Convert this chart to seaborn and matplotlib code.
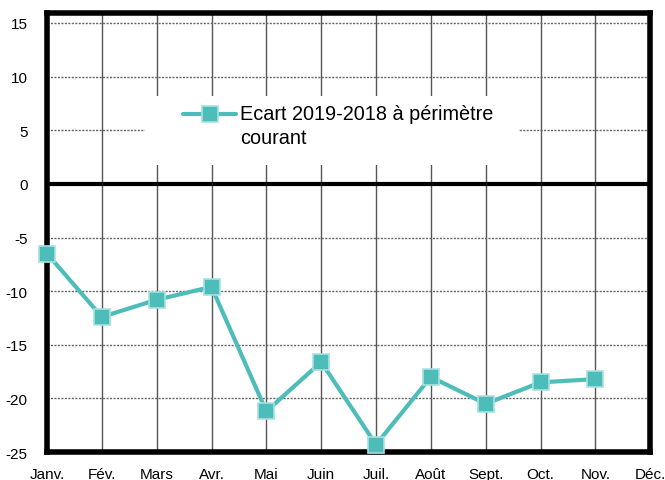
import matplotlib
matplotlib.use("Agg")
import matplotlib.pyplot as plt
from matplotlib.patches import Rectangle
import seaborn as sns
import numpy as np
import pandas as pd

months = ["Janv.", "Fév.", "Mars", "Avr.", "Mai", "Juin", "Juil.", "Août",
          "Sept.", "Oct.", "Nov.", "Déc."]
ecart = [-6.5, -12.4, -10.8, -9.6, -21.2, -16.6, -24.3, -18.0, -20.5, -18.5, -18.2]
label = "Ecart 2019-2018 à périmètre\ncourant"

sns.set_style("white")
plt.rcParams["font.family"] = ["Liberation Sans", "DejaVu Sans"]
plt.rcParams["text.color"] = "black"
plt.rcParams["xtick.color"] = "black"
plt.rcParams["ytick.color"] = "black"

df = pd.DataFrame({"pos": np.arange(len(ecart)), "ecart": ecart})

fig = plt.figure(figsize=(6.65, 4.81), dpi=100)
ax = fig.add_axes([0.0707, 0.058, 0.907, 0.913])

# grid: solid vertical per month, dotted horizontal per 5
for i in range(len(months)):
    ax.axvline(i, color="#555555", lw=1.0, zorder=1)
for yv in range(-20, 16, 5):
    if yv != 0:
        ax.axhline(yv, color="#666666", lw=1.0, ls=(0, (1.5, 1)), zorder=1)
ax.axhline(0, color="black", lw=3, zorder=2)

# white box behind the legend, hiding the grid
ax.add_patch(Rectangle((0.1625, 0.654), 0.62, 0.157, transform=ax.transAxes,
                       facecolor="white", edgecolor="none", zorder=2.5))

sns.lineplot(data=df, x="pos", y="ecart", ax=ax, color="#4DBDBA", lw=3,
             marker="s", markersize=11, markerfacecolor="#4DBDBA",
             markeredgecolor="#A8E2E2", markeredgewidth=1.2,
             label=label, zorder=6, clip_on=False)

ax.set_xlim(0, 11)
ax.set_ylim(-25, 15.93)
ax.set_xticks(range(len(months)))
ax.set_xticklabels(months, fontsize=11)
ax.set_yticks(range(-25, 16, 5))
ax.set_yticklabels([str(v) for v in range(-25, 16, 5)], fontsize=11)
ax.tick_params(axis="x", length=0, pad=11)
ax.tick_params(axis="y", length=0, pad=14)
ax.set_xlabel("")
ax.set_ylabel("")
for s in ax.spines.values():
    s.set_linewidth(4)
    s.set_color("black")
    s.set_zorder(4)

leg = ax.legend(loc="center left", bbox_to_anchor=(0.2255, 0.738), fontsize=14.3,
                frameon=False, borderpad=0, borderaxespad=0,
                handlelength=2.67, handleheight=4.7, handletextpad=0.2)
leg.get_texts()[0].set_linespacing(1.3)
leg.set_zorder(5)

fig.savefig("out.png", dpi=100)
